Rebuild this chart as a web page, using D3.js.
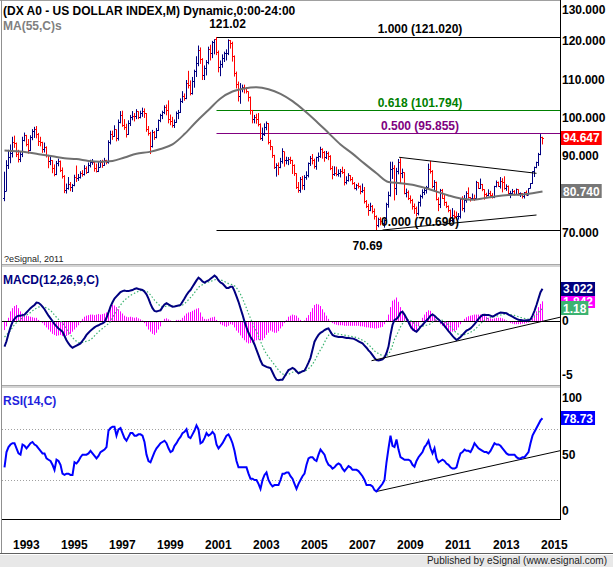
<!DOCTYPE html>
<html>
<head>
<meta charset="utf-8">
<script src="https://cdnjs.cloudflare.com/ajax/libs/d3/7.8.5/d3.min.js"></script>
<style>
  body { margin: 0; background: #fff; }
  svg { display: block; font-family: Arial, "Liberation Sans", sans-serif; }
</style>
</head>
<body>
<div id="chart"></div>
<script>
// Monthly bars, Sep 1992 .. Feb 2015 (one row per year)
var closes = [
  80.8, 87.4, 89.6, 90.6,
  93.6, 93.3, 90.4, 89.0, 90.3, 94.1, 95.3, 93.0, 91.4, 94.8, 96.3, 96.8,
  95.6, 93.7, 93.4, 91.6, 92.1, 90.2, 88.6, 88.7, 86.6, 85.2, 88.0, 88.5,
  86.3, 84.6, 81.1, 81.5, 82.6, 81.8, 82.2, 84.5, 84.1, 84.3, 85.4, 85.1,
  86.8, 85.8, 87.5, 88.2, 88.4, 86.6, 86.0, 87.0, 88.4, 87.6, 88.9, 88.2,
  93.5, 95.6, 95.0, 97.0, 94.5, 98.6, 100.6, 98.0, 97.3, 95.6, 98.5, 99.9,
  100.4, 100.3, 101.5, 100.1, 101.2, 101.6, 101.0, 97.0, 95.8, 92.4, 96.1, 94.8,
  96.6, 99.2, 100.5, 101.3, 102.6, 101.8, 99.4, 99.1, 98.0, 98.6, 101.1, 101.4,
  104.3, 105.4, 105.0, 109.0, 108.3, 106.2, 109.4, 111.9, 114.2, 117.4, 115.2, 111.0,
  112.7, 114.5, 117.7, 116.8, 119.5, 120.3, 117.0, 113.0, 113.9, 115.5, 116.6, 116.8,
  120.1, 119.2, 116.0, 111.5, 108.6, 105.5, 107.4, 107.9, 107.6, 106.8, 105.3, 101.8,
  99.5, 99.9, 99.4, 98.3, 94.6, 95.6, 97.3, 98.4, 93.6, 92.4, 90.0, 87.0,
  87.5, 87.1, 88.6, 91.2, 88.8, 88.9, 89.2, 88.7, 87.6, 85.3, 81.7, 80.9,
  83.8, 82.2, 84.4, 84.8, 88.0, 89.4, 88.8, 87.3, 89.5, 89.9, 91.7, 90.9,
  89.5, 90.7, 89.8, 86.6, 85.2, 85.5, 85.2, 85.3, 86.0, 85.6, 83.0, 83.7,
  84.9, 83.9, 82.9, 81.6, 82.4, 82.0, 80.6, 81.0, 78.1, 76.7, 75.9, 76.7,
  75.4, 74.3, 71.8, 73.4, 73.0, 72.5, 73.1, 77.4, 79.6, 86.4, 86.8, 81.4,
  85.9, 88.3, 85.4, 85.6, 80.2, 80.4, 78.8, 78.4, 76.7, 76.4, 75.0, 77.9,
  79.5, 80.4, 81.0, 81.8, 86.5, 86.0, 82.1, 83.2, 78.6, 77.3, 81.1, 79.0,
  77.9, 76.8, 75.9, 73.2, 74.6, 74.3, 74.2, 74.3, 78.6, 76.2, 78.4, 80.2,
  79.2, 78.8, 79.0, 78.9, 83.0, 81.6, 82.6, 81.3, 80.0, 79.8, 80.2, 79.8,
  79.2, 82.1, 83.0, 82.0, 83.3, 83.2, 81.5, 82.1, 80.2, 80.2, 80.7, 80.0,
  81.2, 80.1, 80.1, 79.5, 80.4, 79.8, 81.5, 82.8, 86.0, 86.9, 88.4, 90.3,
  94.8, 94.647
];
var highs = [
  85.9, 88.9, 91.6, 93.0,
  95.0, 95.3, 93.5, 91.6, 91.2, 95.0, 96.1, 95.5, 94.4, 95.4, 97.0, 97.6,
  97.8, 96.0, 95.0, 93.7, 93.5, 92.5, 90.3, 89.9, 88.9, 87.8, 88.7, 89.3,
  88.8, 87.0, 85.0, 82.8, 84.5, 83.2, 82.7, 85.1, 87.5, 85.3, 86.0, 86.3,
  87.6, 87.3, 88.3, 89.0, 89.2, 88.5, 88.0, 88.4, 88.9, 89.0, 89.5, 89.0,
  94.1, 96.6, 96.6, 98.0, 96.9, 99.5, 101.7, 101.8, 99.6, 98.4, 99.3, 100.7,
  101.7, 101.2, 102.2, 101.6, 101.8, 102.6, 102.4, 101.2, 97.8, 96.3, 96.8, 96.5,
  97.3, 99.5, 101.0, 101.8, 103.2, 103.4, 104.5, 100.8, 100.2, 99.5, 101.6, 102.0,
  105.0, 106.9, 106.3, 109.8, 112.2, 109.7, 110.6, 112.5, 116.0, 118.8, 118.3, 115.5,
  113.6, 115.0, 118.5, 119.0, 120.0, 120.4, 121.02, 117.5, 114.9, 116.5, 117.2, 117.8,
  120.4, 120.2, 119.8, 116.2, 112.0, 109.4, 109.0, 108.6, 108.6, 107.9, 106.8, 105.5,
  102.0, 100.7, 101.0, 101.2, 98.5, 97.4, 98.5, 99.0, 98.6, 94.2, 92.5, 90.3,
  88.1, 88.3, 89.5, 92.0, 91.1, 89.8, 89.7, 89.8, 89.0, 87.8, 85.5, 83.2,
  84.5, 84.8, 85.0, 86.0, 88.3, 90.0, 90.5, 89.3, 89.8, 90.9, 92.4, 92.0,
  91.3, 91.3, 91.1, 90.2, 87.4, 87.3, 87.2, 86.5, 86.6, 87.2, 86.6, 84.7,
  85.5, 85.0, 84.5, 83.2, 82.7, 83.0, 82.3, 82.8, 81.9, 78.5, 77.5, 77.8,
  77.2, 76.3, 74.5, 73.9, 74.0, 73.8, 73.5, 77.8, 80.7, 88.5, 88.5, 87.6,
  86.9, 89.2, 89.4, 86.7, 85.7, 81.5, 81.0, 79.7, 78.8, 77.6, 76.8, 78.1,
  79.9, 81.3, 81.7, 82.2, 88.0, 88.7, 86.3, 83.7, 83.3, 79.2, 81.4, 81.4,
  79.8, 78.1, 77.1, 76.0, 76.4, 75.8, 75.5, 75.1, 78.9, 79.5, 79.8, 80.8,
  81.8, 79.3, 80.2, 79.9, 83.5, 83.1, 84.1, 82.7, 81.3, 80.4, 81.3, 80.9,
  80.3, 82.2, 83.6, 83.3, 84.5, 84.2, 84.7, 82.6, 82.3, 80.9, 81.4, 81.1,
  81.5, 81.3, 80.5, 80.3, 80.6, 81.0, 81.6, 82.9, 86.0, 87.2, 88.5, 90.8,
  95.7, 95.0
];
var lows = [
  78.2, 80.8, 86.6, 88.1,
  89.6, 92.1, 89.7, 88.3, 88.4, 89.7, 93.8, 92.5, 90.6, 91.3, 94.1, 94.7,
  94.6, 92.6, 92.5, 90.8, 90.9, 89.6, 86.8, 87.6, 85.5, 84.7, 85.0, 87.3,
  85.8, 84.1, 80.3, 80.2, 81.2, 80.8, 80.6, 82.1, 83.2, 83.5, 84.1, 84.6,
  84.9, 85.3, 85.6, 87.0, 87.7, 85.9, 85.7, 85.8, 87.0, 86.9, 87.4, 87.8,
  88.0, 93.0, 94.2, 95.0, 93.8, 94.0, 98.5, 97.6, 96.8, 94.8, 95.5, 97.8,
  99.3, 99.0, 99.6, 99.6, 99.8, 100.2, 99.9, 96.3, 95.3, 90.5, 92.2, 94.2,
  94.6, 96.5, 98.8, 99.6, 100.9, 100.6, 98.5, 98.0, 97.4, 97.3, 98.6, 99.6,
  101.2, 103.8, 104.4, 104.8, 107.6, 105.8, 106.0, 107.8, 110.6, 113.4, 114.0, 109.8,
  109.8, 111.0, 113.9, 114.9, 115.5, 116.5, 116.3, 111.8, 110.8, 113.0, 114.5, 114.9,
  116.3, 118.0, 114.6, 110.7, 107.6, 104.2, 103.6, 106.6, 106.3, 106.3, 104.2, 100.8,
  98.5, 98.5, 98.4, 97.7, 94.2, 93.9, 95.2, 96.7, 93.0, 91.5, 89.5, 86.6,
  84.6, 85.0, 86.8, 88.0, 87.2, 87.8, 87.6, 87.9, 85.3, 84.8, 81.4, 80.4,
  80.4, 81.2, 81.1, 83.8, 84.4, 87.4, 87.8, 86.7, 86.4, 88.5, 89.5, 89.3,
  88.5, 89.2, 88.9, 86.3, 83.9, 84.8, 84.7, 84.6, 84.4, 85.3, 82.3, 82.6,
  83.3, 83.4, 82.5, 81.3, 81.0, 81.5, 80.0, 80.4, 77.6, 76.4, 74.4, 75.6,
  75.0, 73.4, 70.69, 71.4, 71.9, 72.2, 71.3, 72.9, 76.5, 79.4, 84.0, 78.4,
  79.8, 85.2, 82.8, 84.2, 80.0, 79.2, 78.5, 77.6, 76.0, 74.9, 74.2, 74.5,
  76.8, 78.9, 79.8, 80.2, 81.7, 85.4, 81.6, 80.6, 78.4, 75.6, 76.4, 78.8,
  77.0, 76.4, 75.3, 72.8, 72.7, 73.5, 73.4, 73.4, 73.7, 75.7, 75.3, 77.8,
  78.9, 78.1, 78.6, 78.3, 78.8, 81.4, 81.4, 80.8, 78.6, 79.0, 79.5, 79.0,
  78.9, 79.0, 81.8, 81.9, 81.5, 80.5, 81.2, 80.9, 79.7, 79.0, 80.1, 79.7,
  80.0, 79.7, 79.3, 78.9, 78.9, 79.7, 79.8, 81.5, 82.7, 84.5, 86.8, 87.4,
  90.2, 93.0
];
var firstOpen = 79.0;

// MA(55) read every 6 months from Sep 1992, last value is Feb 2015
var maValues = [
  91.4, 91.2, 90.9, 90.4, 89.9, 89.4, 89.2, 88.7, 88.5, 88.7, 89.6, 90.6,
  91.0, 91.8, 93.0, 95.7, 99.0, 102.0, 105.0, 106.8, 107.6, 107.9, 107.4, 106.2,
  104.3, 101.8, 99.0, 96.0, 93.0, 90.6, 88.0, 85.5, 83.2, 82.9, 82.5, 81.7,
  80.7, 79.7, 78.9, 78.6, 79.0, 79.5, 79.8, 79.9, 80.3, 80.74
];

// MACD(12,26,9), monthly
var macdValues = [
  -2.4, -1.9, -1.2, -0.6,
  -0.1, 0.2, 0.4, 0.5, 0.5, 0.55, 0.6, 0.8, 1.0, 1.2, 1.35, 1.5,
  1.72, 1.7, 1.55, 1.34, 1.1, 0.8, 0.5, 0.25, 0.0, -0.3, -0.5, -0.7,
  -0.85, -1.0, -1.4, -1.8, -2.1, -2.35, -2.5, -2.4, -2.3, -2.2, -2.1, -1.85,
  -1.6, -1.3, -1.1, -0.9, -0.75, -0.6, -0.47, -0.4, -0.3, -0.22, -0.1, 0.3,
  0.8, 1.34, 1.75, 2.1, 2.3, 2.5, 2.7, 2.8, 2.85, 2.8, 2.8, 2.85,
  2.9, 3.0, 3.06, 3.0, 2.95, 2.9, 2.75, 2.5, 2.1, 1.6, 1.2, 0.94,
  0.9, 0.95, 1.0, 1.3, 1.55, 1.66, 1.55, 1.45, 1.34, 1.35, 1.4, 1.45,
  1.5, 1.8, 2.1, 2.44, 2.7, 2.9, 3.2, 3.5, 3.8, 4.06, 3.9, 3.7,
  3.6, 3.7, 3.8, 3.95, 4.1, 4.25, 4.1, 3.8, 3.6, 3.5, 3.3, 3.1,
  3.1, 3.2, 3.2, 2.8, 2.3, 1.8, 1.2, 0.6, -0.06, -0.6, -1.1, -1.5,
  -1.78, -2.2, -2.7, -3.19, -3.7, -4.1, -4.2, -4.3, -4.35, -4.4, -4.8, -5.2,
  -5.5, -5.55, -5.5, -5.5, -5.2, -4.9, -4.6, -4.5, -4.4, -4.5, -4.7, -4.9,
  -4.8, -4.7, -4.65, -4.3, -3.9, -3.45, -2.7, -1.94, -1.6, -1.3, -1.1, -1.0,
  -0.85, -0.75, -0.69, -1.0, -1.31, -1.4, -1.45, -1.5, -1.5, -1.5, -1.55, -1.6,
  -1.6, -1.62, -1.63, -1.7, -1.8, -1.9, -2.0, -2.1, -2.3, -2.5, -2.75, -2.94,
  -3.2, -3.45, -3.66, -3.7, -3.65, -3.6, -3.4, -3.0, -2.4, -1.3, -0.37, 0.1,
  0.2, 0.4, 0.8, 0.87, 0.6, 0.25, -0.1, -0.5, -0.75, -0.9, -1.0, -0.8,
  -0.55, -0.37, -0.15, 0.05, 0.25, 0.5, 0.62, 0.5, 0.31, 0.15, -0.05, -0.22,
  -0.45, -0.7, -0.95, -1.15, -1.4, -1.6, -1.78, -1.65, -1.5, -1.3, -1.1, -0.9,
  -0.8, -0.69, -0.5, -0.3, -0.06, 0.2, 0.4, 0.56, 0.58, 0.57, 0.56, 0.5,
  0.4, 0.5, 0.62, 0.72, 0.8, 0.78, 0.75, 0.72, 0.6, 0.5, 0.4, 0.3,
  0.2, 0.12, 0.09, 0.06, 0.05, 0.06, 0.07, 0.15, 0.5, 0.95, 1.5, 2.1,
  2.7, 3.022
];
var signalValues = [
  -1.5, -1.3, -1.1, -0.9,
  -0.6, -0.35, -0.15, 0.0, 0.15, 0.3, 0.45, 0.55, 0.65, 0.8, 0.95, 1.1,
  1.2, 1.3, 1.34, 1.34, 1.3, 1.22, 1.12, 1.0, 0.8, 0.55, 0.35, 0.15,
  0.0, -0.2, -0.45, -0.75, -1.05, -1.3, -1.55, -1.75, -1.9, -2.0, -2.05, -2.0,
  -1.95, -1.9, -1.85, -1.75, -1.6, -1.4, -1.2, -1.0, -0.85, -0.7, -0.55, -0.4,
  -0.25, -0.06, 0.3, 0.65, 0.95, 1.25, 1.5, 1.75, 1.95, 2.1, 2.25, 2.4,
  2.5, 2.6, 2.7, 2.78, 2.85, 2.88, 2.85, 2.8, 2.65, 2.45, 2.2, 1.95,
  1.75, 1.55, 1.4, 1.34, 1.35, 1.4, 1.42, 1.42, 1.4, 1.38, 1.38, 1.4,
  1.42, 1.5, 1.62, 1.8, 2.0, 2.2, 2.4, 2.65, 2.9, 3.15, 3.3, 3.4,
  3.5, 3.6, 3.65, 3.7, 3.78, 3.85, 3.9, 3.88, 3.85, 3.78, 3.7, 3.6,
  3.5, 3.45, 3.4, 3.3, 3.1, 2.85, 2.5, 2.1, 1.65, 1.2, 0.7, 0.25,
  -0.2, -0.6, -1.0, -1.45, -1.9, -2.35, -2.75, -3.1, -3.35, -3.6, -3.85, -4.1,
  -4.35, -4.6, -4.8, -4.95, -5.05, -5.05, -5.0, -4.9, -4.8, -4.75, -4.72, -4.75,
  -4.75, -4.75, -4.7, -4.6, -4.45, -4.3, -4.05, -3.75, -3.4, -3.0, -2.7, -2.4,
  -2.0, -1.65, -1.35, -1.15, -1.15, -1.15, -1.18, -1.22, -1.26, -1.3, -1.33, -1.36,
  -1.4, -1.43, -1.46, -1.5, -1.55, -1.62, -1.7, -1.8, -1.9, -2.05, -2.2, -2.4,
  -2.6, -2.8, -2.95, -3.05, -3.15, -3.25, -3.3, -3.25, -3.1, -2.8, -2.3, -1.7,
  -1.35, -0.95, -0.55, -0.25, 0.0, 0.1, 0.12, 0.05, -0.1, -0.25, -0.4, -0.5,
  -0.52, -0.5, -0.42, -0.4, -0.35, -0.25, -0.1, 0.05, 0.12, 0.15, 0.12, 0.06,
  -0.05, -0.2, -0.35, -0.55, -0.75, -0.95, -1.12, -1.25, -1.3, -1.3, -1.27, -1.2,
  -1.15, -1.05, -0.95, -0.82, -0.65, -0.45, -0.25, -0.08, 0.08, 0.2, 0.28, 0.34,
  0.36, 0.4, 0.45, 0.5, 0.56, 0.6, 0.63, 0.65, 0.64, 0.61, 0.57, 0.52,
  0.46, 0.4, 0.34, 0.29, 0.24, 0.2, 0.17, 0.17, 0.23, 0.38, 0.6, 0.82,
  1.0, 1.18
];
var histValues = [
  -0.85, -0.5, 0.3, 0.9,
  1.2, 1.4, 1.5, 1.2, 0.9, 0.7, 0.6, 0.5, 0.45, 0.4, 0.35, 0.3,
  0.3, 0.1, 0.0, -0.2, -0.4, -0.6, -0.8, -1.0, -1.2, -1.3, -1.4, -1.35,
  -1.3, -1.4, -1.5, -1.4, -1.3, -1.2, -1.0, -0.8, -0.6, -0.4, -0.15, 0.2,
  0.4, 0.5, 0.55, 0.6, 0.6, 0.55, 0.6, 0.65, 0.6, 0.65, 0.7, 0.8,
  1.0, 1.3, 1.5, 1.45, 1.3, 1.1, 0.9, 0.7, 0.5, 0.4, 0.35, 0.4,
  0.35, 0.3, 0.35, 0.25, 0.15, 0.05, -0.2, -0.5, -0.8, -1.0, -1.2, -1.3,
  -1.1, -0.8, -0.5, -0.1, 0.2, 0.25, 0.15, 0.05, -0.05, 0.0, 0.1, 0.1,
  0.1, 0.3, 0.5, 0.7, 0.8, 0.85, 0.95, 1.05, 1.15, 1.2, 0.8, 0.4,
  0.2, 0.15, 0.2, 0.3, 0.35, 0.4, 0.1, -0.1, -0.3, -0.4, -0.5, -0.55,
  -0.45, -0.3, -0.35, -0.6, -0.9, -1.1, -1.35, -1.6, -1.8, -2.0, -2.1, -2.05,
  -2.0, -1.9, -1.8, -1.75, -1.8, -1.8, -1.6, -1.3, -1.1, -0.9, -1.0, -1.1,
  -1.1, -0.95, -0.7, -0.5, -0.2, 0.1, 0.4, 0.5, 0.6, 0.55, 0.5, 0.3,
  0.1, 0.0, 0.05, 0.3, 0.55, 0.85, 1.2, 1.5, 1.6, 1.55, 1.4, 1.1,
  0.8, 0.5, 0.2, 0.0, -0.2, -0.3, -0.35, -0.4, -0.4, -0.4, -0.45, -0.45,
  -0.45, -0.45, -0.45, -0.45, -0.45, -0.45, -0.5, -0.5, -0.55, -0.6, -0.6, -0.65,
  -0.65, -0.7, -0.7, -0.65, -0.6, -0.55, -0.3, 0.1, 0.6, 1.3, 1.9, 2.0,
  2.2, 1.8, 1.3, 1.0, 0.6, 0.2, -0.3, -0.7, -0.9, -1.0, -0.9, -0.5,
  -0.1, 0.3, 0.6, 0.85, 1.0, 0.95, 0.7, 0.4, 0.1, -0.1, -0.3, -0.45,
  -0.6, -0.75, -0.9, -1.0, -1.0, -0.95, -0.85, -0.6, -0.3, 0.0, 0.2, 0.35,
  0.45, 0.5, 0.55, 0.6, 0.6, 0.6, 0.6, 0.55, 0.5, 0.4, 0.3, 0.25,
  0.2, 0.25, 0.3, 0.3, 0.3, 0.25, 0.15, 0.05, -0.1, -0.2, -0.25, -0.3,
  -0.3, -0.3, -0.3, -0.25, -0.25, -0.2, -0.15, -0.05, 0.3, 0.6, 0.9, 1.3,
  1.6, 1.842
];

// RSI(14), monthly
var rsiValues = [
  40, 52, 56, 58,
  59, 59, 55, 51, 50, 58, 57, 55, 57, 59, 60, 58,
  57, 55, 53, 51, 51, 47, 46, 45, 42, 38, 46, 45,
  42, 35, 34, 35, 35, 34, 34, 44, 43, 45, 48, 50,
  50, 50, 51, 53, 51, 49, 47, 49, 52, 53, 54, 56,
  69, 71, 72, 72, 65, 70, 71, 67, 63, 61, 64, 67,
  67, 65, 65, 66, 66, 65, 60, 50, 45, 44, 48, 52,
  55, 57, 59, 60, 61, 59, 55, 52, 53, 57, 59, 62,
  64, 67, 68, 70, 64, 63, 66, 69, 73, 70, 59, 60,
  63, 67, 65, 66, 68, 66, 58, 55, 57, 59, 62, 65,
  66, 63, 59, 53, 45, 40, 40, 40, 40, 40, 35, 31,
  31, 30, 30, 27, 23, 30, 34, 36, 30, 27, 25, 26,
  26, 26, 30, 35, 35, 36, 36, 33, 31, 27, 23, 27,
  30, 33, 35, 42, 47, 48, 48, 46, 45, 50, 54, 52,
  50, 45, 42, 41, 39, 40, 42, 43, 42, 39, 37, 39,
  41, 40, 38, 38, 38, 37, 35, 33, 30, 26, 26, 26,
  25, 22, 21, 23, 25, 27, 30, 44, 55, 65, 57, 56,
  62, 54, 48, 47, 46, 46, 46, 45, 42, 40.5, 45, 48,
  50, 52, 56, 58, 61, 55, 51, 55, 47, 44, 45, 46,
  45, 43, 42, 40, 39, 39, 40, 46, 51, 52, 54, 53,
  53, 52, 55, 59, 57, 55, 54, 53, 52, 52, 51, 53,
  56, 59, 58, 58, 57, 55, 53, 51, 50, 50, 50, 50,
  48, 47, 47, 48, 48, 50, 52, 59, 65, 68, 71, 74,
  77, 78.73
];

var priceTicks = [130, 120, 110, 100, 90, 80, 70];
var macdTicks = [0, -5];
var rsiTicks = [100, 50, 0];
var yearLabels = [1993, 1995, 1997, 1999, 2001, 2003, 2005, 2007, 2009, 2011, 2013, 2015];

// Fibonacci retracement from the Jul 2001 high to the Mar 2008 low
var fibRatios = ["1.000", "0.618", "0.500", "0.000"];
var fibValues = [121.02, 101.794, 95.855, 70.69];
var fibStart = 106; // month index of Jul 2001

// trend lines: [month index, value, month index, value]
var priceTrends = [[197.3, 89.65, 266, 85.47], [189, 70.69, 266, 74.6]];
var macdTrend = [183.5, -3.72, 277.75, 0.35];
var rsiTrend = [185.6, 20.8, 277.75, 53.1];

//===============================================

var width = 613;
var height = 567;
var plotLeft = 2;
var plotRight = 560;

var panel = {
  price: { top: 2, bottom: 264 },
  macd: { top: 267, bottom: 385 },
  rsi: { top: 388, bottom: 519 }
};

var color = {
  up: "#000080",
  down: "#ff0000",
  ma: "#707070",
  macd: "#000080",
  signal: "#3cb371",
  hist: "#ff00ff",
  rsi: "#0000ff",
  fib: ["#000000", "#008000", "#800080", "#000000"]
};

var svg = d3
  .select("#chart")
  .append("svg")
  .attr("width", width)
  .attr("height", height);

svg.append("rect").attr("width", width).attr("height", height).attr("fill", "#fff");

// clip each panel
var defs = svg.append("defs");
Object.keys(panel).forEach(function (k) {
  defs.append("clipPath").attr("id", "clip-" + k)
    .append("rect")
    .attr("x", plotLeft)
    .attr("y", panel[k].top)
    .attr("width", plotRight - plotLeft)
    .attr("height", panel[k].bottom - panel[k].top);
});

// scales
var x = d3.scaleLinear().domain([0, closes.length - 1]).range([4.5, 542.5]);
var yPrice = d3.scaleLinear().domain([70.69, 121.02]).range([230, 37]);
var yMacd = d3.scaleLinear().domain([-5, 0]).range([374.4, 321]);
var yRsi = d3.scaleLinear().domain([30, 70]).range([480, 429.3]);

function snap(v) { return Math.round(v - 0.5) + 0.5; }
function monthIndex(year) { return (year - 1992) * 12 - 8; }

// Part 1: price panel
var pricePlot = svg.append("g").attr("clip-path", "url(#clip-price)");

// fib lines
fibValues.forEach(function (v, k) {
  pricePlot.append("line")
    .attr("x1", x(fibStart)).attr("x2", plotRight)
    .attr("y1", snap(yPrice(v))).attr("y2", snap(yPrice(v)))
    .attr("stroke", color.fib[k]).attr("stroke-width", 1);
});

// OHLC bars
pricePlot.selectAll("path.bar")
  .data(closes)
  .enter()
  .append("path")
  .attr("class", "bar")
  .attr("d", function (c, i) {
    var px = x(i);
    var open = i > 0 ? closes[i - 1] : firstOpen;
    var yo = snap(yPrice(open));
    var yc = snap(yPrice(c));
    return "M" + px + "," + yPrice(highs[i]) + "V" + yPrice(lows[i]) +
      "M" + (px - 1.5) + "," + yo + "H" + px +
      "M" + px + "," + yc + "H" + (px + 1.5);
  })
  .attr("fill", "none")
  .attr("stroke-width", 1)
  .attr("stroke", function (c, i) {
    var open = i > 0 ? closes[i - 1] : firstOpen;
    return c >= open ? color.up : color.down;
  });

// MA(55)
var maLine = d3.line()
  .x(function (d, k) { return x(Math.min(k * 6, closes.length - 1)); })
  .y(function (d) { return yPrice(d); })
  .curve(d3.curveMonotoneX);

pricePlot.append("path")
  .attr("d", maLine(maValues))
  .attr("fill", "none")
  .attr("stroke", color.ma)
  .attr("stroke-width", 2);

// trend lines
priceTrends.forEach(function (t) {
  pricePlot.append("line")
    .attr("x1", x(t[0])).attr("y1", yPrice(t[1]))
    .attr("x2", x(t[2])).attr("y2", yPrice(t[3]))
    .attr("stroke", "#000").attr("stroke-width", 1);
});

// fib labels
var fibLabelX = 420;
fibValues.forEach(function (v, k) {
  svg.append("text")
    .attr("x", fibLabelX)
    .attr("y", yPrice(v) - 4)
    .attr("text-anchor", "middle")
    .attr("fill", color.fib[k])
    .style("font-size", "12px")
    .style("font-weight", "bold")
    .text(fibRatios[k] + " (" + v.toFixed(3) + ")");
});

// high / low annotations
svg.append("text")
  .attr("x", x(fibStart) + 11).attr("y", yPrice(121.02) - 9)
  .attr("text-anchor", "middle")
  .style("font-size", "12px").style("font-weight", "bold")
  .text("121.02");
svg.append("text")
  .attr("x", x(186) - 9).attr("y", yPrice(70.69) + 20)
  .attr("text-anchor", "middle")
  .style("font-size", "12px").style("font-weight", "bold")
  .text("70.69");

svg.append("text")
  .attr("x", 3).attr("y", 14.5)
  .style("font-size", "12px").style("font-weight", "bold")
  .text("(DX A0 - US DOLLAR INDEX,M) Dynamic,0:00-24:00");
svg.append("text")
  .attr("x", 3).attr("y", 30)
  .attr("fill", "#808080")
  .style("font-size", "12px").style("font-weight", "bold")
  .text("MA(55,C)s");
svg.append("text")
  .attr("x", 4).attr("y", 261.5)
  .attr("fill", "#222")
  .style("font-size", "9px")
  .text("?eSignal, 2011");

// Part 2: MACD panel
var macdPlot = svg.append("g").attr("clip-path", "url(#clip-macd)");

macdPlot.selectAll("line.hist")
  .data(histValues)
  .enter()
  .append("line")
  .attr("class", "hist")
  .attr("x1", function (d, i) { return x(i); })
  .attr("x2", function (d, i) { return x(i); })
  .attr("y1", yMacd(0))
  .attr("y2", function (d) { return yMacd(d); })
  .attr("stroke", color.hist)
  .attr("stroke-width", 1);

macdPlot.append("line")
  .attr("x1", plotLeft).attr("x2", plotRight)
  .attr("y1", snap(yMacd(0))).attr("y2", snap(yMacd(0)))
  .attr("stroke", "#000");

var macdLine = d3.line()
  .x(function (d, i) { return x(i); })
  .y(function (d) { return yMacd(d); });

macdPlot.append("path")
  .attr("d", macdLine(signalValues))
  .attr("fill", "none")
  .attr("stroke", color.signal)
  .attr("stroke-width", 1.2)
  .attr("stroke-dasharray", "1.5,2");

macdPlot.append("path")
  .attr("d", macdLine(macdValues))
  .attr("fill", "none")
  .attr("stroke", color.macd)
  .attr("stroke-width", 2);

macdPlot.append("line")
  .attr("x1", x(macdTrend[0])).attr("y1", yMacd(macdTrend[1]))
  .attr("x2", x(macdTrend[2])).attr("y2", yMacd(macdTrend[3]))
  .attr("stroke", "#000");

svg.append("text")
  .attr("x", 3).attr("y", 283.5)
  .attr("fill", "#000080")
  .style("font-size", "12px").style("font-weight", "bold")
  .text("MACD(12,26,9,C)");

// Part 3: RSI panel
var rsiPlot = svg.append("g").attr("clip-path", "url(#clip-rsi)");

[70, 30].forEach(function (v) {
  rsiPlot.append("line")
    .attr("x1", plotLeft).attr("x2", plotRight)
    .attr("y1", snap(yRsi(v))).attr("y2", snap(yRsi(v)))
    .attr("stroke", "#a0a0a0")
    .attr("stroke-dasharray", "1,2");
});

rsiPlot.append("line")
  .attr("x1", x(rsiTrend[0])).attr("y1", yRsi(rsiTrend[1]))
  .attr("x2", x(rsiTrend[2])).attr("y2", yRsi(rsiTrend[3]))
  .attr("stroke", "#000");

rsiPlot.append("path")
  .attr("d", d3.line()
    .x(function (d, i) { return x(i); })
    .y(function (d) { return yRsi(d); })(rsiValues))
  .attr("fill", "none")
  .attr("stroke", color.rsi)
  .attr("stroke-width", 2);

svg.append("text")
  .attr("x", 3).attr("y", 404.5)
  .attr("fill", "#2222dd")
  .style("font-size", "12px").style("font-weight", "bold")
  .text("RSI(14,C)");

// Part 4: frame, separators, axes
svg.append("line")
  .attr("x1", 0).attr("x2", plotRight).attr("y1", 0.5).attr("y2", 0.5)
  .attr("stroke", "#a0a0a0");
svg.append("line")
  .attr("x1", 1.5).attr("x2", 1.5).attr("y1", 0).attr("y2", 553)
  .attr("stroke", "#909090");

[panel.price.bottom, panel.macd.bottom].forEach(function (yb) {
  svg.append("rect")
    .attr("x", 2).attr("y", yb).attr("width", plotRight - 2).attr("height", 3)
    .attr("fill", "#d4d4d4");
  svg.append("line")
    .attr("x1", 2).attr("x2", plotRight).attr("y1", yb + 0.5).attr("y2", yb + 0.5)
    .attr("stroke", "#a8a8a8");
});

svg.append("line")
  .attr("x1", plotRight + 0.5).attr("x2", plotRight + 0.5)
  .attr("y1", 0).attr("y2", panel.rsi.bottom + 1)
  .attr("stroke", "#000");
svg.append("line")
  .attr("x1", plotLeft).attr("x2", plotRight + 1)
  .attr("y1", panel.rsi.bottom + 0.5).attr("y2", panel.rsi.bottom + 0.5)
  .attr("stroke", "#000");

// value boxes on the right axis (they hide tick labels underneath)
var last = closes.length - 1;
var boxes = [
  { v: closes[last], label: "94.647", scale: yPrice, fill: color.down },
  { v: maValues[maValues.length - 1], label: "80.740", scale: yPrice, fill: "#777777" },
  { v: histValues[last], label: "1.842", scale: yMacd, fill: color.hist },
  { v: macdValues[last], label: "3.022", scale: yMacd, fill: color.macd },
  { v: signalValues[last], label: "1.18", scale: yMacd, fill: color.signal },
  { v: rsiValues[last], label: "78.73", scale: yRsi, fill: color.rsi }
];

function axisLabels(ticks, scale, p, fmt) {
  ticks.forEach(function (t) {
    var yy = Math.max(p.top + 8, Math.min(p.bottom - 8, scale(t)));
    var hidden = boxes.some(function (b) {
      return b.scale === scale && Math.abs(b.scale(b.v) - yy) < 11;
    });
    if (hidden) return;
    svg.append("text")
      .attr("x", 562).attr("y", yy).attr("dy", "0.36em")
      .style("font-size", "12px").style("font-weight", "bold")
      .text(fmt(t));
  });
}
axisLabels(priceTicks, yPrice, panel.price, function (t) { return t.toFixed(3); });
axisLabels(macdTicks, yMacd, panel.macd, function (t) { return String(t); });
axisLabels(rsiTicks, yRsi, { top: panel.rsi.top + 2, bottom: panel.rsi.bottom }, function (t) { return String(t); });

boxes.forEach(function (b) {
  var yy = b.scale(b.v);
  var g = svg.append("g");
  var t = g.append("text")
    .attr("x", 563).attr("y", yy).attr("dy", "0.36em")
    .attr("fill", "#fff")
    .style("font-size", "12px").style("font-weight", "bold")
    .text(b.label);
  var w = t.node().getComputedTextLength();
  g.insert("rect", "text")
    .attr("x", 561).attr("y", Math.round(yy) - 7)
    .attr("width", w + 4).attr("height", 14)
    .attr("fill", b.fill);
});

// year labels
yearLabels.forEach(function (yr) {
  svg.append("text")
    .attr("x", x(monthIndex(yr)) + 0.5)
    .attr("y", 548.5)
    .style("font-size", "12px").style("font-weight", "bold")
    .text(yr);
});

// footer
svg.append("line")
  .attr("x1", 0).attr("x2", width).attr("y1", 553.5).attr("y2", 553.5)
  .attr("stroke", "#606060");
svg.append("rect")
  .attr("x", 0).attr("y", 555).attr("width", width).attr("height", 12)
  .attr("fill", "#e8e8e8");
svg.append("text")
  .attr("x", 607).attr("y", 564)
  .attr("text-anchor", "end")
  .attr("fill", "#222")
  .style("font-size", "10px")
  .text("Published by eSignal (www.esignal.com)");
</script>
</body>
</html>
